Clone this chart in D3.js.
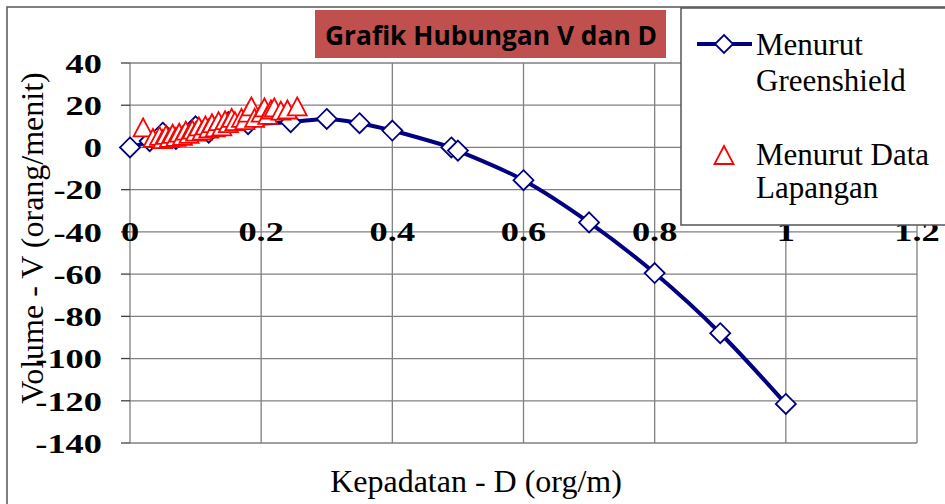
<!DOCTYPE html>
<html>
<head>
<meta charset="utf-8">
<script src="https://cdn.jsdelivr.net/npm/d3@7"></script>
<style>
  body { margin: 0; background: #fff; }
  svg { display: block; }
</style>
</head>
<body>
<div class="chart"></div>
<script>
// Greenshield model (D in org/m, V in orang/menit)
const greenD = [0, 0.03, 0.05, 0.07, 0.1, 0.12, 0.15, 0.18, 0.245, 0.3, 0.35, 0.4, 0.49, 0.5, 0.6, 0.7, 0.8, 0.9, 1.0];
const greenV = [0, 3, 7, 4, 10, 7, 12, 11, 12, 13.5, 11.5, 8, 0, -1.5, -15.5, -35.5, -59.5, -88, -121.5];

// field data (data lapangan)
const fieldD = [0.02, 0.035, 0.045, 0.05, 0.055, 0.06, 0.065, 0.07, 0.075, 0.08, 0.085, 0.09, 0.095,
  0.1, 0.105, 0.11, 0.115, 0.12, 0.125, 0.13, 0.135, 0.14, 0.145, 0.15, 0.155, 0.16, 0.17,
  0.175, 0.18, 0.185, 0.19, 0.2, 0.205, 0.21, 0.215, 0.22, 0.23, 0.24, 0.255];
const fieldV = [9, 4, 5, 3.5, 5.5, 4, 6, 4.5, 6.5, 5, 7.5, 6, 8,
  7, 9.5, 7.5, 10, 8.5, 11, 9, 12, 9.5, 12.5, 11, 13.5, 12, 13.5,
  12.5, 16, 19, 13.5, 16, 18.5, 15, 17.5, 18.5, 17, 17.5, 19];

const xTicks = [0, 0.2, 0.4, 0.6, 0.8, 1, 1.2];
const yTicks = [40, 20, 0, -20, -40, -60, -80, -100, -120, -140];

const width = 945;
const height = 504;

const x = d3.scaleLinear().domain([0, 1.2]).range([130, 917]);
const y = d3.scaleLinear().domain([-140, 40]).range([443, 63]);

const svg = d3.select('.chart').append('svg')
    .attr('width', width)
    .attr('height', height);

// outer chart frame
svg.append('rect')
  .attr('x', 7).attr('y', 7)
  .attr('width', 960).attr('height', 520)
  .attr('fill', '#fff')
  .attr('stroke', '#555')
  .attr('stroke-width', 1.5);

const serif = '"Liberation Serif", "Times New Roman", serif';
const stretch = 1.3; // tick labels in the original are widened

// gridlines
svg.append('g').selectAll('line')
    .data(yTicks)
  .enter().append('line')
    .attr('x1', x(0)).attr('x2', x(1.2))
    .attr('y1', d => y(d)).attr('y2', d => y(d))
    .attr('stroke', '#808080')
    .attr('stroke-width', 1.3);

svg.append('g').selectAll('line')
    .data(xTicks)
  .enter().append('line')
    .attr('x1', d => x(d)).attr('x2', d => x(d))
    .attr('y1', y(40)).attr('y2', y(-140))
    .attr('stroke', '#808080')
    .attr('stroke-width', 1.3);

// y tick marks
svg.append('g').selectAll('line')
    .data(yTicks)
  .enter().append('line')
    .attr('x1', x(0) - 9).attr('x2', x(0))
    .attr('y1', d => y(d)).attr('y2', d => y(d))
    .attr('stroke', '#404040')
    .attr('stroke-width', 1.3);

// y tick labels
svg.append('g').selectAll('text')
    .data(yTicks)
  .enter().append('text')
    .attr('transform', d => `translate(102,${y(d)}) scale(${stretch},1)`)
    .attr('dy', '0.35em')
    .attr('text-anchor', 'end')
    .style('font-family', serif)
    .style('font-weight', 'bold')
    .style('font-size', '28px')
    .text(d => d);

// x tick labels (sit on the -40 gridline like the original)
svg.append('g').selectAll('text')
    .data(xTicks)
  .enter().append('text')
    .attr('transform', d => `translate(${x(d)},${y(-40) + 9}) scale(${stretch},1)`)
    .attr('text-anchor', 'middle')
    .style('font-family', serif)
    .style('font-weight', 'bold')
    .style('font-size', '28px')
    .text(d => d);

// Greenshield line
const green = greenD.map((d, i) => ({ d: d, v: greenV[i] }));
const line = d3.line()
  .x(p => x(p.d))
  .y(p => y(p.v))
  .curve(d3.curveCatmullRom.alpha(0));

svg.append('path')
  .datum(green)
  .attr('d', line)
  .attr('fill', 'none')
  .attr('stroke', '#000080')
  .attr('stroke-width', 4);

const diamond = 'M0,-10L10,0L0,10L-10,0Z';
const triangle = 'M0,-10L9.5,8L-9.5,8Z';

svg.append('g').selectAll('path')
    .data(green)
  .enter().append('path')
    .attr('d', diamond)
    .attr('transform', p => `translate(${x(p.d)},${y(p.v)})`)
    .attr('fill', '#fff')
    .attr('stroke', '#000080')
    .attr('stroke-width', 1.8);

// field data triangles
const field = fieldD.map((d, i) => ({ d: d, v: fieldV[i] }));
svg.append('g').selectAll('path')
    .data(field)
  .enter().append('path')
    .attr('d', triangle)
    .attr('transform', p => `translate(${x(p.d)},${y(p.v)})`)
    .attr('fill', '#fff')
    .attr('stroke', '#ff0000')
    .attr('stroke-width', 1.8);

// axis titles
svg.append('text')
  .attr('x', 476)
  .attr('y', 492)
  .attr('text-anchor', 'middle')
  .style('font-family', serif)
  .style('font-size', '32px')
  .text('Kepadatan - D (org/m)');

svg.append('text')
  .attr('transform', 'translate(43, 238) rotate(-90)')
  .attr('text-anchor', 'middle')
  .style('font-family', serif)
  .style('font-size', '32px')
  .text('Volume - V (orang/menit)');

// title box
svg.append('rect')
  .attr('x', 315).attr('y', 10)
  .attr('width', 351).attr('height', 48)
  .attr('fill', '#c0504d');

svg.append('text')
  .attr('x', 325)
  .attr('y', 45)
  .attr('textLength', 332)
  .attr('lengthAdjust', 'spacingAndGlyphs')
  .style('font-family', '"Open Sans", "Liberation Sans", sans-serif')
  .style('font-weight', 'bold')
  .style('font-size', '27px')
  .attr('fill', '#000')
  .text('Grafik Hubungan V dan D');

// legend
const legend = svg.append('g');
legend.append('rect')
  .attr('x', 681).attr('y', 8)
  .attr('width', 300).attr('height', 217)
  .attr('fill', '#fff')
  .attr('stroke', '#555')
  .attr('stroke-width', 1.5);

legend.append('line')
  .attr('x1', 697).attr('x2', 752)
  .attr('y1', 44).attr('y2', 44)
  .attr('stroke', '#000080')
  .attr('stroke-width', 4);
legend.append('path')
  .attr('d', 'M0,-9L9,0L0,9L-9,0Z')
  .attr('transform', 'translate(724,44)')
  .attr('fill', '#fff')
  .attr('stroke', '#000080')
  .attr('stroke-width', 1.8);
legend.append('path')
  .attr('d', triangle)
  .attr('transform', 'translate(724,156)')
  .attr('fill', '#fff')
  .attr('stroke', '#ff0000')
  .attr('stroke-width', 1.8);

const legendText = [
  ['Menurut', 55], ['Greenshield', 91], ['Menurut Data', 165], ['Lapangan', 198]
];
legend.selectAll('text.lg')
    .data(legendText)
  .enter().append('text')
    .attr('class', 'lg')
    .attr('x', 756)
    .attr('y', d => d[1])
    .style('font-family', serif)
    .style('font-size', '31px')
    .text(d => d[0]);
</script>
</body>
</html>
